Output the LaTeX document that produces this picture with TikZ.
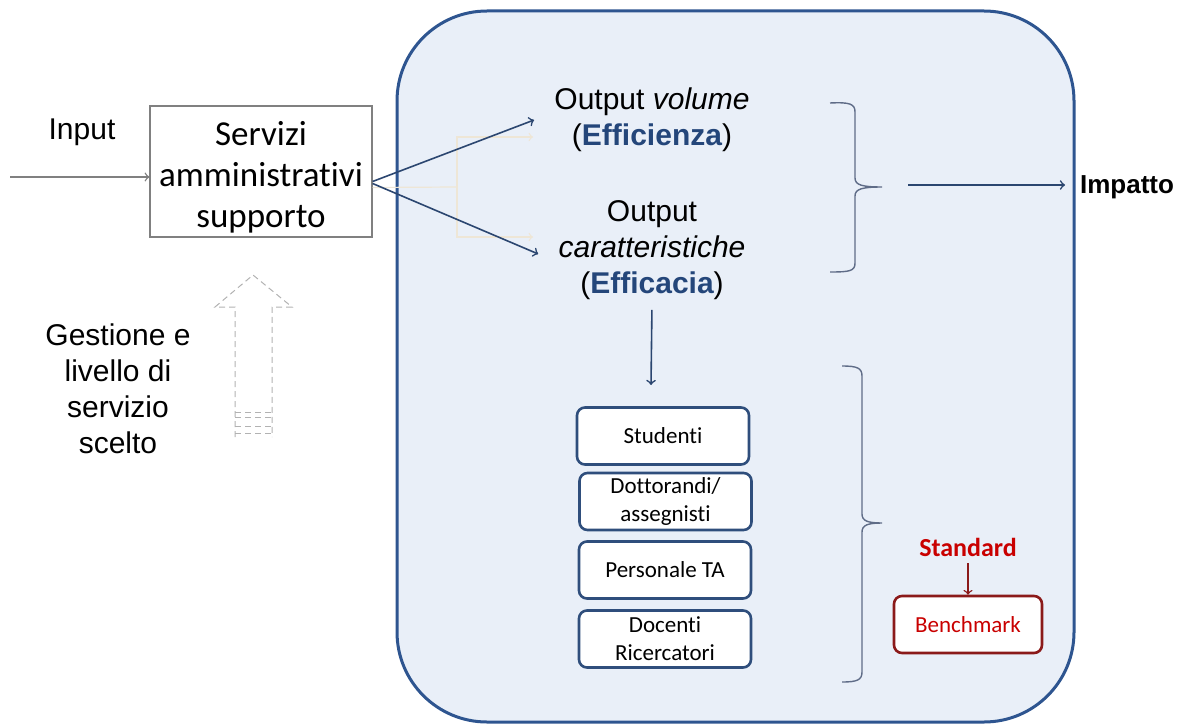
\documentclass[tikz,border=0pt]{standalone}
\usepackage{fontspec}
\setmainfont{Liberation Sans}
\newfontfamily\calib[Ligatures=NoCommon]{Carlito}
\usepackage{tikz}
\usetikzlibrary{arrows,positioning,calc}
\definecolor{fondbleu}{HTML}{E9EFF8}
\definecolor{bordbleu}{HTML}{2E5590}
\definecolor{navy}{HTML}{2B4670}
\definecolor{boxbleu}{HTML}{2F4E7C}
\definecolor{txtbleu}{HTML}{24467A}
\definecolor{rougef}{HTML}{8B1A1A}
\definecolor{rouge}{HTML}{C00000}
\definecolor{pale}{HTML}{EEE6D6}
\tikzstyle{servbox}=[draw=gray, line width=0.6pt, fill=white, minimum width=111pt, minimum height=65.5pt, inner sep=0pt, align=center, font=\calib\fontsize{17.5}{20.5}\selectfont]
\tikzstyle{pubblico}=[draw=boxbleu, line width=1.3pt, fill=white, rounded corners=4pt, minimum width=86pt, minimum height=28.5pt, inner sep=0pt, align=center, font=\calib\fontsize{11.5}{14}\selectfont]
\tikzstyle{bench}=[draw=rougef, line width=1.3pt, fill=white, rounded corners=4pt, minimum width=74pt, minimum height=28.5pt, inner sep=0pt, text=rouge!85!red, font=\calib\fontsize{11.5}{14}\selectfont]
\tikzstyle{testo}=[align=center, font=\fontsize{15}{18}\selectfont]
\tikzstyle{graffa}=[draw={rgb,255:red,95;green,108;blue,135}, line width=0.7pt]

\begin{document}
\begin{tikzpicture}[x=0.5pt, y=-0.5pt]
\useasboundingbox (0,0) rectangle (1187,727);

% cadre
\draw[bordbleu, fill=fondbleu, line width=1.5pt, rounded corners=45pt] (397,11) rectangle (1074,722);

% input
\node[testo] (input) at (82,132) {Input};
\node[servbox] (servizi) at (261,171.5) {\rule{0pt}{18pt}Servizi\\amministrativi\\supporto};
\coordinate (entree) at (10,177);
\draw[->, gray, line width=0.7pt] (entree) -- (servizi.west |- entree);

% gestione
\node[testo] (gestione) at (118,389) {Gestione e\\livello di\\servizio\\scelto};
\draw[gray!60, dash pattern=on 3pt off 2pt, line width=0.5pt]
  (235,437) -- (235,307) -- (215,307) -- (253,275) -- (292,307) -- (272,307) -- (272,437);
\foreach \y in {412,417,426,433}
  \draw[gray!60, dash pattern=on 3pt off 2pt, line width=0.5pt] (235,\y) -- (272,\y);

% output
\node[testo, inner xsep=10pt] (volume) at (652,120) {Output \textit{volume}\\(\textbf{\textcolor{txtbleu}{Efficienza}})};
\node[testo, inner xsep=10pt, inner ysep=2pt] (caratt) at (652,250) {Output\\\textit{caratteristiche}\\(\textbf{\textcolor{txtbleu}{Efficacia}})};

% liens pales
\draw[pale, line width=0.6pt] ([yshift=-8pt]servizi.east) -- (457,187);
\draw[pale, line width=0.6pt, ->] (457,187) |- (533,137);
\draw[pale, line width=0.6pt, ->] (457,187) |- (533,237);

\draw[->, navy, line width=0.8pt] ([yshift=-5pt]servizi.east) -- (volume.west);
\draw[->, navy, line width=0.8pt] ([yshift=-6pt]servizi.east) -- ([yshift=-2pt]caratt.west);

% pubblico
\coordinate (cible) at (651,385);
\draw[->, navy, line width=0.8pt, shorten <=3pt] (caratt.south) -- (cible);
\node[pubblico] (studenti) at (663,436) {Studenti};
\node[pubblico] (dottorandi) at (665.5,501.5) {Dottorandi/\\assegnisti};
\node[pubblico] (personale) at (665,570) {Personale TA};
\node[pubblico] (docenti) at (665,639) {Docenti\\Ricercatori};

% graffe
\draw[graffa] (830,103) .. controls (850,102) and (855,104) .. (855,112) -- (855,178)
  .. controls (855,185) and (862,187) .. (882,187) coordinate (punta1)
  .. controls (862,187) and (855,189) .. (855,196) -- (855,263)
  .. controls (855,271) and (850,272) .. (830,272);
\draw[graffa] (842,366) .. controls (857,366) and (862,368) .. (862,376) -- (862,514)
  .. controls (862,521) and (868,523) .. (882,523) coordinate (punta2)
  .. controls (868,523) and (862,525) .. (862,532) -- (862,672)
  .. controls (862,680) and (857,682) .. (842,682);

% impatto
\node[anchor=west, font=\bfseries\fontsize{13}{15}\selectfont] (impatto) at (1073,187) {Impatto};
\coordinate (depart) at (908,185);
\draw[->, navy, line width=0.8pt, shorten >=4pt] (depart) -- (impatto.west |- depart);

% standard
\node[font=\calib\bfseries\fontsize{13}{15}\selectfont, text=rouge!85!red] (standard) at (968,547) {Standard};
\node[bench] (benchmark) at (968,624.5) {Benchmark};
\draw[->, rougef, line width=0.7pt] (standard.south) -- (benchmark.north);

\end{tikzpicture}
\end{document}
